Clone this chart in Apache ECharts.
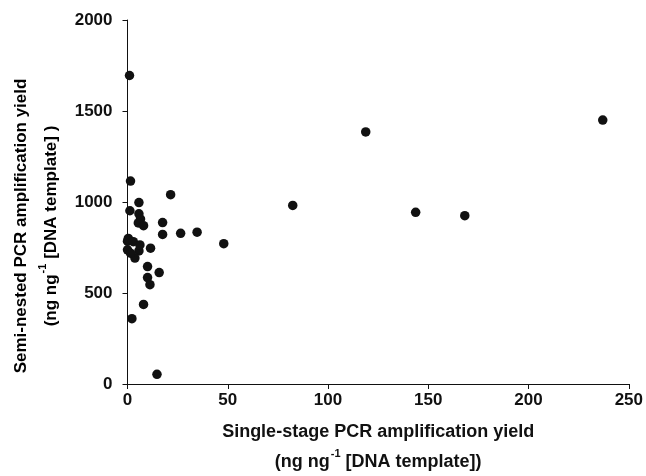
<!DOCTYPE html>
<html>
  <head>
    <meta charset="utf-8" />
    <title>PCR yield scatter</title>
    <style>
      html, body { margin: 0; padding: 0; background: #fff; }
    </style>
  </head>
  <body>
    <div id="main" style="width: 646px; height: 476px"></div>
    <script type="text/javascript" src="https://cdn.jsdelivr.net/npm/echarts@6/dist/echarts.min.js"></script>
    <script type="text/javascript">
      // x: single-stage yield, y: semi-nested yield
      var singleStage = [1, 1.5, 21.5, 5.7, 1.2, 5.7, 6.5, 5.4, 8, 17.5, 17.5, 26.5, 34.7, 48, 0.4, 0, 2.9, 0, 5.7, 3.7, 1.5, 6.2, 11.5, 10, 15.8, 10, 11.2, 8, 2.2, 14.7, 82.4, 118.8, 143.7, 168.2, 237];
      var semiNested = [1695, 1115, 1040, 997, 952, 935, 906, 885, 870, 887, 822, 828, 834, 771, 800, 785, 782, 737, 731, 692, 719, 764, 746, 645, 612, 585, 546, 437, 359, 53, 981, 1385, 943, 925, 1450];
      var xTicks = [0, 50, 100, 150, 200, 250];
      var yTicks = [0, 500, 1000, 1500, 2000];

      var points = [];
      for (var i = 0; i < singleStage.length; i++) {
        points.push([singleStage[i], semiNested[i]]);
      }

      var fam = "Liberation Sans, Arial, sans-serif";
      var labelFont = { color: "#111", fontWeight: "bold", fontSize: 17, fontFamily: fam };
      function makeRich(size) {
        return {
          t: { fontSize: size, fontWeight: "bold", color: "#111", fontFamily: fam, lineHeight: 30 },
          s: { fontSize: 11, fontWeight: "bold", color: "#111", fontFamily: fam, lineHeight: 12, verticalAlign: "top", padding: [1, 0, 0, 1] }
        };
      }

      var myChart = echarts.init(document.getElementById("main"));
      var option = {
        animation: false,
        grid: { left: 127.5, right: 15.5, top: 20, bottom: 87 },
        xAxis: {
          type: "value",
          min: xTicks[0],
          max: xTicks[xTicks.length - 1],
          interval: 50,
          splitLine: { show: false },
          axisLine: { lineStyle: { color: "#111", width: 1 } },
          axisTick: { show: true, length: 5, lineStyle: { color: "#111" } },
          axisLabel: Object.assign({ margin: 8, formatter: function (v) { return String(v); } }, labelFont),
          name: "{t|Single-stage PCR amplification yield}\n{t|(ng ng}{s|-1}{t| [DNA template])}",
          nameLocation: "middle",
          nameGap: 33,
          nameTextStyle: { rich: makeRich(18), align: "center", verticalAlign: "top" }
        },
        yAxis: {
          type: "value",
          min: yTicks[0],
          max: yTicks[yTicks.length - 1],
          interval: 500,
          splitLine: { show: false },
          axisLine: { show: true, lineStyle: { color: "#111", width: 1 } },
          axisTick: { show: true, length: 5, lineStyle: { color: "#111" } },
          axisLabel: Object.assign({ margin: 15, formatter: function (v) { return String(v); } }, labelFont)
        },
        graphic: [
          {
            type: "text",
            x: 36,
            y: 226,
            rotation: Math.PI / 2,
            style: {
              text: "{t|Semi-nested PCR amplification yield}\n{t|(ng ng}{s|-1}{t| [DNA template] )}",
              rich: makeRich(17),
              align: "center",
              verticalAlign: "middle"
            }
          }
        ],
        series: [
          {
            type: "scatter",
            data: points,
            symbolSize: 9.5,
            itemStyle: { color: "#111", opacity: 1 }
          }
        ]
      };
      myChart.setOption(option);
    </script>
  </body>
</html>
